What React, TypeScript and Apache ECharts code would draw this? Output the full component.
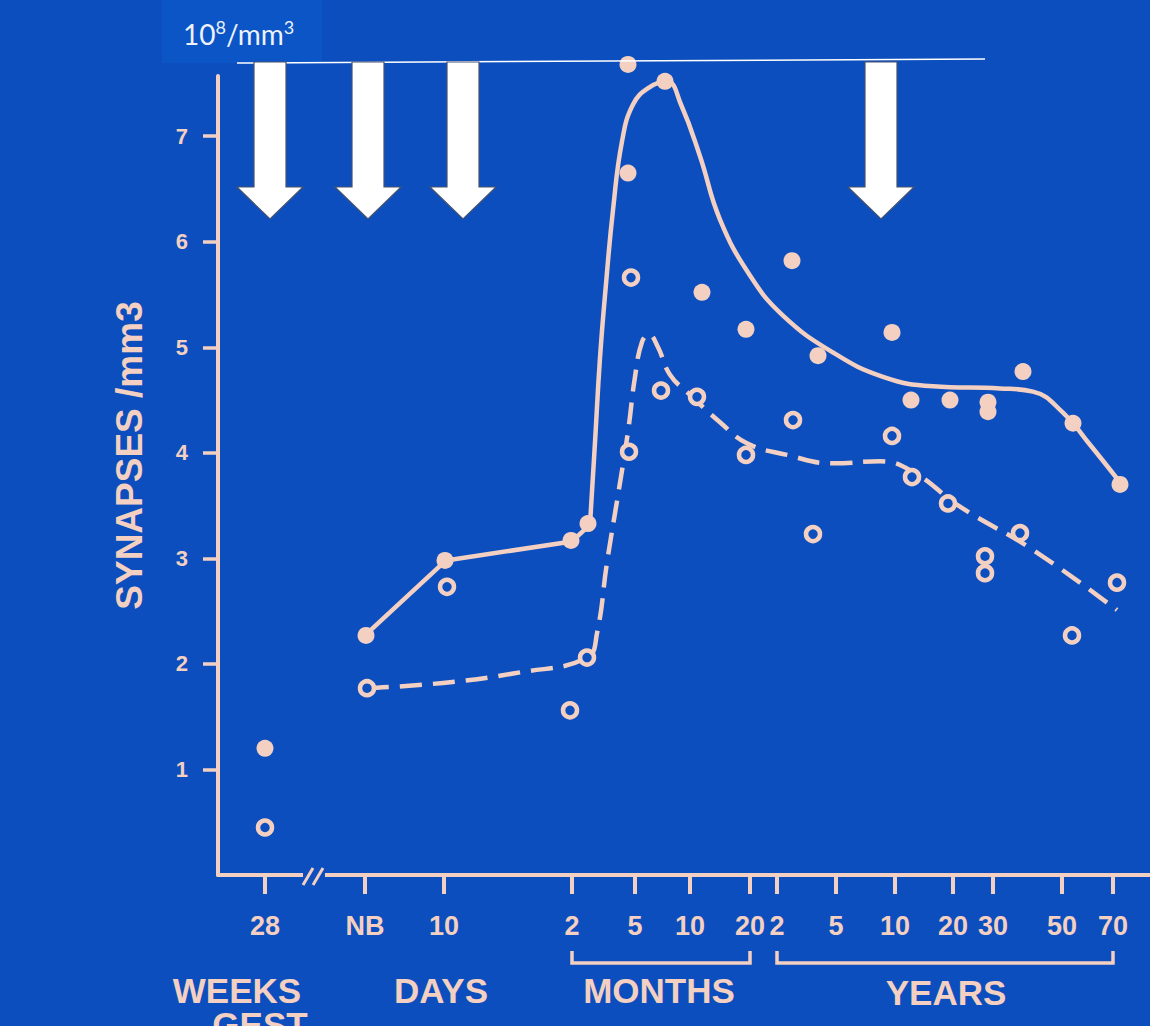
import React, { useEffect, useRef } from "react";
import * as echarts from "echarts";

const BG = "#0c4ebd";
const INK = "#f3d0c2";
const FONT = '"Liberation Sans", Arial, sans-serif';

// x axis: position along the (broken, quasi-log) age axis, 0..932 units
const tickPos = [47, 147, 226, 354, 417, 472, 532, 559, 618, 677, 735, 775, 844, 895];
const tickLabels = ["28", "NB", "10", "2", "5", "10", "20", "2", "5", "10", "20", "30", "50", "70"];
const yTicks = [1, 2, 3, 4, 5, 6, 7];

// filled dots (synapse density, solid curve)
const filledPos = [47, 148, 227, 353, 370, 410, 410, 447, 484, 528, 574, 600, 674, 693, 732, 770, 770, 805, 855, 902];
const filledVal = [1.2, 2.27, 2.98, 3.17, 3.33, 7.68, 6.65, 7.52, 5.52, 5.17, 5.82, 4.92, 5.14, 4.5, 4.5, 4.48, 4.39, 4.77, 4.28, 3.7];

// open circles (dashed curve)
const openPos = [47, 149, 229, 352, 369, 411, 413, 443, 479, 528, 575, 595, 674, 694, 730, 767, 767, 802, 854, 899];
const openVal = [0.45, 1.77, 2.73, 1.56, 2.06, 4.01, 5.66, 4.59, 4.53, 3.98, 4.31, 3.23, 4.16, 3.77, 3.52, 3.02, 2.86, 3.24, 2.27, 2.77];

// solid fitted curve
const solidStraightPos = [147, 228, 354, 372];
const solidStraightVal = [2.27, 2.98, 3.16, 3.32];
const solidCurvePos = [372, 377, 382, 388, 395, 404, 415, 431, 449, 463, 482, 502, 532, 565, 615, 665, 715, 782, 815, 845, 870, 902];
const solidCurveVal = [3.32, 4.1, 4.9, 5.6, 6.3, 6.95, 7.3, 7.46, 7.52, 7.3, 6.81, 6.21, 5.68, 5.3, 4.95, 4.72, 4.63, 4.61, 4.58, 4.38, 4.1, 3.72];

// dashed fitted curve
const dashedPos = [149, 225, 302, 369, 379, 389, 400, 410, 417, 424, 431, 440, 452, 472, 502, 529, 569, 615, 662, 695, 742, 815, 899];
const dashedVal = [1.77, 1.82, 1.92, 2.06, 2.29, 2.96, 3.6, 4.2, 4.72, 5.05, 5.12, 5.0, 4.74, 4.55, 4.29, 4.09, 3.98, 3.9, 3.92, 3.82, 3.49, 3.08, 2.51];

const groupLabels = ["WEEKS", "GEST", "DAYS", "MONTHS", "YEARS"];
const yAxisName = "SYNAPSES /mm3";

const zip = (xs: number[], ys: number[]) => xs.map((x, i) => [x, ys[i]]);

export default function App() {
  const ref = useRef<HTMLDivElement>(null);
  useEffect(() => {
    document.body.style.margin = "0";
    document.body.style.background = BG;
    const chart = echarts.init(ref.current!, null, { renderer: "svg" });
    const option: any = {
      animation: false,
      backgroundColor: BG,
      grid: { left: 218, right: 0, top: 76, bottom: 151, containLabel: false },
      xAxis: {
        type: "value",
        min: 0,
        max: 932,
        splitLine: { show: false },
        axisLine: { show: true, lineStyle: { color: INK, width: 4 } },
        axisTick: { show: true, customValues: tickPos, length: 19, lineStyle: { color: INK, width: 4 } },
        axisLabel: {
          customValues: tickPos,
          formatter: (v: number) => {
            const i = tickPos.indexOf(Math.round(v));
            return i >= 0 ? tickLabels[i] : "";
          },
          color: INK,
          fontFamily: FONT,
          fontWeight: "bold",
          fontSize: 27,
          margin: 37,
        },
      },
      yAxis: {
        type: "value",
        min: 0,
        max: 7.57,
        interval: 1,
        splitLine: { show: false },
        axisLine: { show: true, lineStyle: { color: INK, width: 4 } },
        axisTick: { show: true, customValues: yTicks, length: 15, lineStyle: { color: INK, width: 3.5 } },
        axisLabel: {
          customValues: yTicks,
          color: INK,
          fontFamily: FONT,
          fontWeight: "bold",
          fontSize: 22,
          margin: 30,
        },
        name: yAxisName,
        nameLocation: "middle",
        nameRotate: 90,
        nameGap: 70,
        nameTextStyle: {
          color: INK,
          fontFamily: FONT,
          fontWeight: "bold",
          fontSize: 37,
          padding: [0, 0, 0, 40],
        },
      },
      series: [
        {
          type: "line",
          data: zip(solidStraightPos, solidStraightVal),
          symbol: "none",
          clip: false,
          lineStyle: { color: INK, width: 4.5, join: "round" },
          z: 2,
        },
        {
          type: "line",
          data: zip(solidCurvePos, solidCurveVal),
          symbol: "none",
          smooth: 0.45,
          clip: false,
          lineStyle: { color: INK, width: 4.5, join: "round" },
          z: 2,
        },
        {
          type: "line",
          data: zip(dashedPos, dashedVal),
          symbol: "none",
          smooth: 0.45,
          clip: false,
          lineStyle: { color: INK, width: 4.5, type: [22, 11], join: "round" },
          z: 2,
        },
        {
          type: "scatter",
          data: zip(filledPos, filledVal),
          symbol: "circle",
          symbolSize: 17,
          clip: false,
          itemStyle: { color: INK, opacity: 1 },
          z: 3,
        },
        {
          type: "scatter",
          data: zip(openPos, openVal),
          symbol: "circle",
          symbolSize: 14,
          clip: false,
          itemStyle: { color: BG, borderColor: INK, borderWidth: 4.5, opacity: 1 },
          z: 3,
        },
      ],
    };
    chart.setOption(option);

    const px = (p: number) => chart.convertToPixel({ xAxisIndex: 0 }, p) as number;
    const xAxisY = chart.convertToPixel({ yAxisIndex: 0 }, 0) as number;

    const arrow = (c: number) => ({
      type: "polygon",
      z: 100,
      shape: {
        points: [
          [c - 16, 62], [c + 16, 62], [c + 16, 187], [c + 33, 187],
          [c, 219], [c - 33, 187], [c - 16, 187],
        ],
      },
      style: { fill: "#ffffff", stroke: "#46536e", lineWidth: 1.2 },
    });

    const bracket = (a: number, b: number) => ({
      type: "polyline",
      z: 50,
      shape: { points: [[px(a), 951], [px(a), 963], [px(b), 963], [px(b), 951]] },
      style: { stroke: INK, lineWidth: 3.5, fill: null },
    });

    const label = (t: string, x: number, y: number) => ({
      type: "text",
      z: 50,
      x,
      y,
      style: {
        text: t,
        fill: INK,
        font: `bold 35px ${FONT}`,
        lineHeight: 28,
        align: "center",
        verticalAlign: "middle",
        textAlign: "center",
        textVerticalAlign: "middle",
      },
    });

    const breakX = px(96);
    chart.setOption({
      graphic: [
        { type: "rect", z: 1, shape: { x: 162, y: 0, width: 160, height: 63 }, style: { fill: "#0b55c6" } },
        {
          type: "text",
          z: 100,
          x: 183,
          y: 18,
          style: {
            text: "{a|10}{s|8}{a|/mm}{s|3}",
            verticalAlign: "top",
            textVerticalAlign: "top",
            rich: {
              a: { fontSize: 28, fontFamily: "Lato", fill: "#eef2fa", lineHeight: 30, verticalAlign: "bottom" },
              s: { fontSize: 18, fontFamily: "Lato", fill: "#eef2fa", lineHeight: 18, verticalAlign: "top" },
            },
          },
        },
        { type: "line", z: 100, shape: { x1: 237, y1: 63, x2: 985, y2: 59 }, style: { stroke: "#ffffff", lineWidth: 1.5 } },
        arrow(270),
        arrow(368),
        arrow(463),
        arrow(881),
        { type: "rect", z: 60, shape: { x: breakX - 11, y: xAxisY - 5, width: 22, height: 10 }, style: { fill: BG } },
        { type: "line", z: 61, shape: { x1: breakX - 11, y1: xAxisY + 10, x2: breakX - 1, y2: xAxisY - 7 }, style: { stroke: INK, lineWidth: 3 } },
        { type: "line", z: 61, shape: { x1: breakX - 1, y1: xAxisY + 10, x2: breakX + 9, y2: xAxisY - 7 }, style: { stroke: INK, lineWidth: 3 } },
        bracket(tickPos[3], tickPos[6]),
        bracket(tickPos[7], tickPos[13]),
        label(groupLabels[0], 237, 990),
        label(groupLabels[1], 260, 1024),
        label(groupLabels[2], 441, 990),
        label(groupLabels[3], 659, 990),
        label(groupLabels[4], 946, 992),
      ],
    });

    return () => chart.dispose();
  }, []);
  return <div ref={ref} style={{ position: "absolute", left: 0, top: 0, width: 1150, height: 1026 }} />;
}
